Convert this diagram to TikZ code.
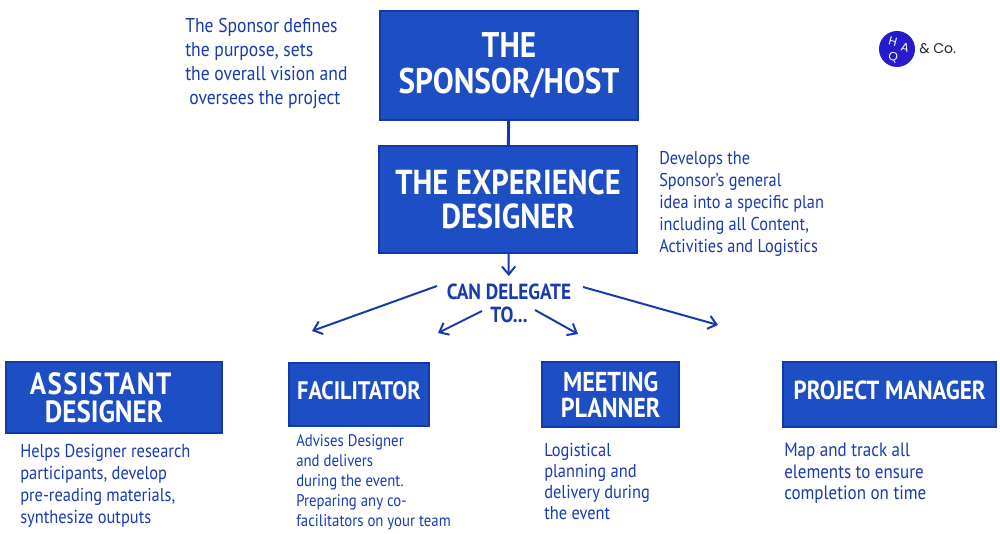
\documentclass[tikz,border=0pt]{standalone}
\usepackage{fontspec}
\setmainfont[FakeStretch=0.88]{PT Sans}
\newfontfamily\logofont{Poppins}
\usetikzlibrary{arrows.meta, positioning}
\definecolor{hblue}{RGB}{29,78,196}
\definecolor{hedge}{RGB}{20,56,170}
\definecolor{hink}{RGB}{24,58,176}
\definecolor{hlogo}{RGB}{38,28,205}
\definecolor{hdark}{RGB}{35,35,50}

\begin{document}
\begin{tikzpicture}[x=0.75pt,y=-0.75pt,
  rolebox/.style={draw=hedge,fill=hblue,line width=1.5pt,text=white,align=center,inner sep=0pt,anchor=north west},
  note/.style={text=hink,align=left,anchor=north west,inner sep=0pt},
  arr/.style={-{Straight Barb[length=6pt,width=10pt]},hink,line width=1.5pt},
  logoletter/.style={text=white,rotate=-15,inner sep=0pt,font=\logofont\fontsize{9}{9}\selectfont}
]
  \useasboundingbox (0,0) rectangle (1000,534);

  % Boxes
  \node[rolebox,minimum width=193.5pt,minimum height=81.5pt,font=\fontsize{26.7}{27}\bfseries\selectfont] (sponsor) at (379,10) {\raisebox{2.5pt}{THE}\\\raisebox{2.5pt}{SPONSOR/HOST}};
  \node[rolebox,minimum width=193.5pt,minimum height=80pt,font=\fontsize{26}{26}\bfseries\selectfont] (designer) at (378,145) {THE EXPERIENCE\\DESIGNER};
  \node[rolebox,minimum width=162pt,minimum height=53pt,font=\fontsize{23}{21}\bfseries\selectfont] (assistant) at (5,361) {{\addfontfeature{LetterSpace=5}ASSISTANT}\hspace*{20pt}\\DESIGNER\hspace*{15pt}};
  \node[rolebox,minimum width=105pt,minimum height=47pt,font=\fontsize{19}{21}\bfseries\selectfont] (facilitator) at (288,362) {\raisebox{6pt}{FACILITATOR}};
  \node[rolebox,minimum width=103pt,minimum height=48.5pt,font=\fontsize{20.5}{19.5}\bfseries\selectfont] (planner) at (541,361) {MEETING\\PLANNER};
  \node[rolebox,minimum width=160pt,minimum height=48.5pt,font=\fontsize{19.6}{21}\bfseries\selectfont] (manager) at (782,361) {\raisebox{6pt}{PROJECT MANAGER}};

  % Notes
  \node[note,font=\fontsize{15}{18}\selectfont] (sponsornote) at (185,18) {The Sponsor defines\\the purpose, sets\\the overall vision and\\\hspace{3pt}oversees the project};
  \node[note,font=\fontsize{13.9}{16.5}\selectfont] (designernote) at (659,151) {Develops the\\Sponsor’s general\\idea into a specific plan\\including all Content,\\Activities and Logistics};
  \node[note,font=\fontsize{14}{16.5}\selectfont] (assistantnote) at (20,444) {Helps Designer research\\participants, develop\\pre-reading materials,\\synthesize outputs};
  \node[note,font=\fontsize{12.6}{15}\selectfont] (facilitatornote) at (296,434) {Advises Designer\\and delivers\\during the event.\\Preparing any co-\\facilitators on your team};
  \node[note,font=\fontsize{14}{15.8}\selectfont] (plannernote) at (544,443) {Logistical\\planning and\\delivery during\\the event};
  \node[note,font=\fontsize{14.5}{16.1}\selectfont] (managernote) at (784,443) {Map and track all\\elements to ensure\\completion on time};

  % Delegation
  \node[text=hink,align=center,inner sep=0pt,anchor=north,font=\fontsize{16.4}{17.25}\bfseries\selectfont] (delegate) at (509,284) {CAN DELEGATE\\TO...};
  \coordinate (leftstart) at (437,286);
  \coordinate (leftend) at (312,331);
  \coordinate (midleftstart) at (482,311);
  \coordinate (midleftend) at (438,333);
  \coordinate (midrightstart) at (535,310);
  \coordinate (midrightend) at (578,334);
  \coordinate (rightstart) at (583,287);
  \coordinate (rightend) at (718,325);

  \draw[hedge,line width=2.2pt] (sponsor) -- (designer);
  \draw[arr,shorten >=6pt] (designer) -- (delegate);
  \draw[arr] (leftstart) -- (leftend);
  \draw[arr] (midleftstart) -- (midleftend);
  \draw[arr] (midrightstart) -- (midrightend);
  \draw[arr] (rightstart) -- (rightend);

  % Logo
  \node[circle,fill=hlogo,minimum size=27pt,inner sep=0pt] (logo) at (897,49) {};
  \node[logoletter] (logoh) at (893,42) {H};
  \node[logoletter] (logoa) at (905,48) {A};
  \node[logoletter] (logoq) at (893,57) {Q};
  \node[text=hdark,anchor=west,inner sep=0pt,font=\logofont\fontsize{10.5}{12}\selectfont] (logotext) at (919,49) {\& Co.};
\end{tikzpicture}
\end{document}
